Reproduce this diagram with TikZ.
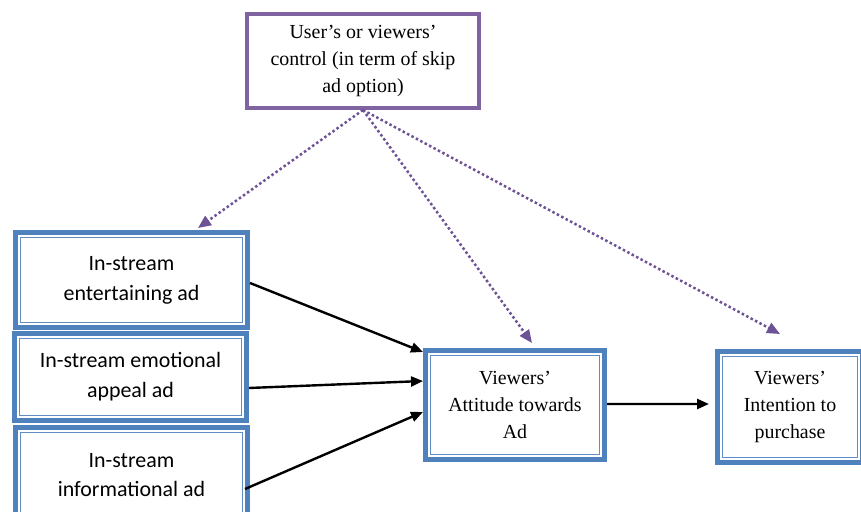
\documentclass[tikz,border=0pt]{standalone}
\usepackage{fontspec}
\setmainfont{Liberation Serif}
\newfontfamily\calib{Carlito}
\usetikzlibrary{arrows.meta}
\definecolor{boxblue}{HTML}{4F81BD}
\definecolor{innerblue}{HTML}{5F8DC6}
\definecolor{ctrlpurple}{HTML}{8064A2}
\definecolor{dotpurple}{HTML}{6E5296}
\begin{document}
\begin{tikzpicture}[x=1bp,y=-1bp,
  dblbox/.style={rectangle, draw=boxblue, line width=5bp, fill=white, align=center, inner sep=0pt,
    path picture={\draw[innerblue,line width=1.8bp] ([shift={(5bp,-5bp)}]path picture bounding box.north west) rectangle ([shift={(-5bp,5bp)}]path picture bounding box.south east);}},
  sansbox/.style={dblbox, font=\calib\fontsize{22}{30}\selectfont},
  serifbox/.style={dblbox, font=\fontsize{20}{27}\selectfont},
  ctrlbox/.style={rectangle, draw=ctrlpurple, line width=4bp, fill=white, align=center, inner sep=0pt,
    font=\fontsize{20}{27.5}\selectfont},
  solidarrow/.style={draw=black, line width=2.4bp, -{Triangle[length=12bp,width=10bp]}},
  dotarrow/.style={draw=dotpurple, line width=2.5bp, dash pattern=on 2.5bp off 2.5bp,
    -{Triangle[length=13bp,width=11bp]}}
]
\path[use as bounding box] (0,0) rectangle (861,512);
\clip (0,0) rectangle (861,512);
\fill[white] (0,0) rectangle (861,512);

\node[ctrlbox, minimum width=232bp, minimum height=94bp] (ctrl) at (363,61)
  {User’s or viewers’\\control (in term of skip\\ad option)};

\node[sansbox, minimum width=232bp, minimum height=95bp] (b1) at (131.5,280)
  {In-stream\\entertaining ad};
\node[sansbox, minimum width=232bp, minimum height=87bp] (b2) at (130.5,377)
  {In-stream emotional\\appeal ad};
\node[sansbox, minimum width=232bp, minimum height=95bp] (b3) at (131.5,475)
  {In-stream\\informational ad};

\node[serifbox, minimum width=179bp, minimum height=109bp] (att) at (515,405)
  {Viewers’\\Attitude towards\\Ad};
\node[serifbox, minimum width=145bp, minimum height=111bp] (int) at (790,407)
  {Viewers’\\Intention to\\purchase};

\draw[solidarrow] ([yshift=-3bp]b1.east) -- ([yshift=-4bp]att.north west);
\draw[solidarrow] ([yshift=-11bp]b2.east) -- ([yshift=24bp]att.west);
\draw[solidarrow] ([xshift=-5bp,yshift=-14bp]b3.east) -- ([yshift=-7bp]att.west);
\draw[solidarrow] ([yshift=1bp]att.east) -- ([xshift=-6bp,yshift=3bp]int.west);

\draw[dotarrow] (ctrl.south) -- ([xshift=-52bp,yshift=2bp]b1.north east);
\draw[dotarrow] (ctrl.south) -- ([xshift=17bp,yshift=5bp]att.north);
\draw[dotarrow] (ctrl.south) -- ([xshift=-10bp,yshift=15bp]int.north);
\end{tikzpicture}
\end{document}
